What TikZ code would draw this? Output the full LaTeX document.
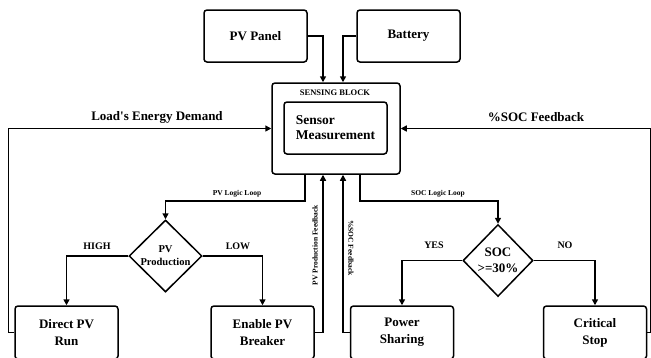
\documentclass[tikz,border=0pt]{standalone}
\usepackage{fontspec}
\setmainfont{Liberation Serif}
\usetikzlibrary{arrows.meta,positioning,calc,shapes.geometric}
\tikzset{
  blockbox/.style={draw, line width=1.5pt, rounded corners=3pt, align=center, inner sep=0pt,
    minimum width=103pt, minimum height=53pt, font=\bfseries\fontsize{13}{17}\selectfont},
  decision/.style={draw, diamond, line width=1.5pt, inner sep=-3pt, align=center,
    minimum width=72pt, minimum height=72pt},
  flowln/.style={-{Triangle[length=6pt,width=6pt]}, line width=1.5pt},
  bigtag/.style={font=\bfseries\fontsize{13}{16}\selectfont},
  tag/.style={font=\bfseries\fontsize{10}{12}\selectfont},
  smalltag/.style={font=\bfseries\fontsize{7.5}{9}\selectfont},
}

\begin{document}
\begin{tikzpicture}[x=1pt, y=-1pt]
  \useasboundingbox (0,0) rectangle (651,357);
  % sources
  \node[blockbox, minimum height=52pt] (pv) at (255.5,36) {PV Panel};
  \node[blockbox, minimum height=52pt] (bat) at (408.5,36) {Battery};
  % sensing block
  \node[blockbox, minimum width=128pt, minimum height=91pt] (sense) at (336,128.5) {};
  \node[font=\bfseries\fontsize{8.5}{10}\selectfont] (sensetitle) at (335,93) {SENSING BLOCK};
  \node[blockbox, minimum height=52pt, align=left, font=\bfseries\fontsize{13.5}{15}\selectfont] (meas) at (335.5,128) {Sensor\\Measurement};
  % decisions
  \node[decision, minimum width=73pt, font=\bfseries\fontsize{10.5}{13}\selectfont] (pvdia) at (165.5,256) {PV\\Production};
  \node[decision, minimum width=70pt, font=\bfseries\fontsize{13}{16}\selectfont] (socdia) at (498,260.5) {SOC\\>=30\%};
  % actions
  \node[blockbox] (direct) at (66.5,332.5) {Direct PV\\Run};
  \node[blockbox] (enable) at (262.5,332.5) {Enable PV\\Breaker};
  \node[blockbox] (share) at (402,332.5) {Power\\Sharing};
  \node[blockbox] (crit) at (595,332.5) {Critical\\Stop};
  % inputs to sensing block
  \draw[flowln] (pv.east) -| ([xshift=-13pt]sense.north);
  \draw[flowln] (bat.west) -| ([xshift=7pt]sense.north);
  \draw[flowln] (direct.west) -- ++(-6,0) |- (sense.west);
  \draw[flowln] (crit.east) -- ++(3.5,0) |- (sense.east);
  \node[bigtag] (loadlbl) at (157,117) {Load\textquotesingle s Energy Demand};
  \node[bigtag] (soclbl) at (536,117) {\%SOC Feedback};
  % logic loops
  \draw[flowln] ([xshift=-31pt]sense.south) -- ++(0,26) -| (pvdia.north);
  \draw[flowln] ([xshift=24pt]sense.south) -- ++(0,26) -| (socdia.north);
  \node[smalltag] (pvloop) at (237,194) {PV Logic Loop};
  \node[smalltag] (socloop) at (438,194) {SOC Logic Loop};
  \draw[flowln] (pvdia.west) -| (direct.north);
  \draw[flowln] (pvdia.east) -| (enable.north);
  \draw[flowln] (socdia.west) -| (share.north);
  \draw[flowln] (socdia.east) -| (crit.north);
  \node[tag] (high) at (97,246) {HIGH};
  \node[tag] (low) at (238,246) {LOW};
  \node[tag] (yes) at (434,245) {YES};
  \node[tag] (no) at (565,245) {NO};
  % feedback
  \draw[flowln] (enable.east) -| ([xshift=-13pt]sense.south);
  \draw[flowln] (share.west) -| ([xshift=7pt]sense.south);
  \node[smalltag, rotate=90] (pvfb) at (315,245) {PV Production Feedback};
  \node[smalltag, rotate=-90] (socfb) at (351,248) {\%SOC Feedback};
\end{tikzpicture}
\end{document}
